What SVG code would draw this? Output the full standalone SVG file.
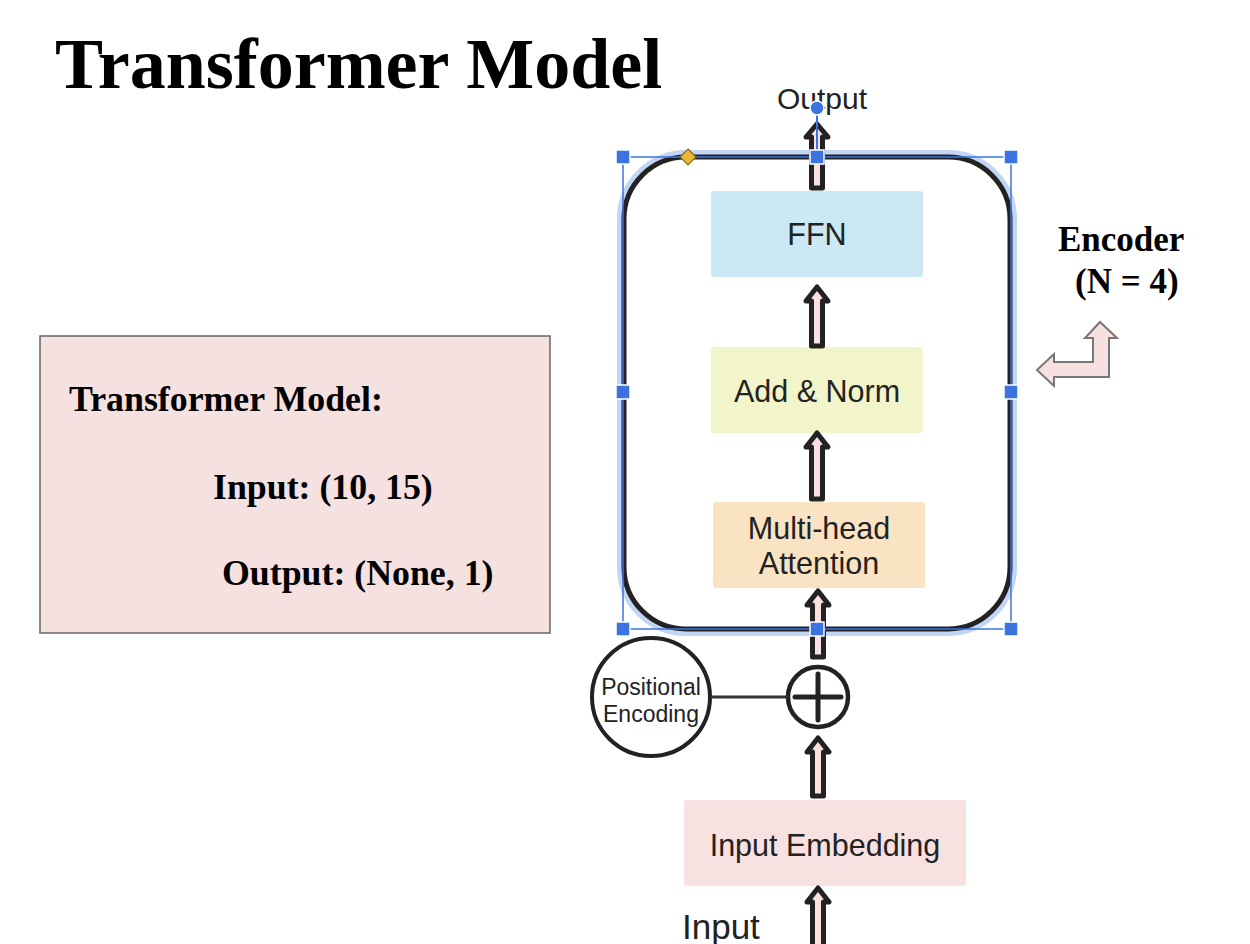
<svg xmlns="http://www.w3.org/2000/svg" width="1250" height="944" viewBox="0 0 1250 944">
<defs>
<style>
.serif{font-family:"Liberation Serif","Times New Roman",serif;font-weight:bold;fill:#000}
.sans{font-family:"Liberation Sans",Arial,sans-serif;fill:#222}
.box{stroke:none}
.barrow{fill:#f9e1e1;stroke:#222;stroke-width:5;stroke-linejoin:round}
.handle{fill:#3b73e0;stroke:#fff;stroke-width:1.5}
</style>
</defs>
<rect width="1250" height="944" fill="#fff"/>

<g id="title">
<text class="serif" x="55" y="88" font-size="72">Transformer Model</text>
</g>

<g id="info-box">
<rect x="40" y="336" width="510" height="297" fill="#f6e1e1" stroke="#666" stroke-width="1.5"/>
<text class="serif" x="69" y="411" font-size="35.8">Transformer Model:</text>
<text class="serif" x="213" y="499" font-size="35.8">Input: (10, 15)</text>
<text class="serif" x="222" y="585" font-size="35.8">Output: (None, 1)</text>
</g>

<g id="encoder-label">
<text class="serif" x="1058" y="251" font-size="35">Encoder</text>
<text class="serif" x="1075" y="293" font-size="35">(N = 4)</text>
</g>

<g id="loop-arrow">
<path d="M1037,370 L1054,354 L1054,362 L1093,362 L1093,338 L1085,338 L1100,322 L1117,338 L1109,338 L1109,377 L1054,377 L1054,386 Z" fill="#f6e0e0" stroke="#777" stroke-width="2" stroke-linejoin="miter"/>
</g>

<g id="encoder">
<rect x="624" y="157" width="386" height="472" rx="62" fill="none" stroke="#c3d5f5" stroke-width="14"/>
<rect x="624" y="157" width="386" height="472" rx="62" fill="#fff" stroke="#222" stroke-width="5"/>
</g>

<g id="ffn">
<rect class="box" x="711" y="191" width="212" height="86" rx="3" fill="#cce8f5"/>
<text class="sans" x="817" y="245" font-size="30.5" text-anchor="middle">FFN</text>
</g>

<g id="add-norm">
<rect class="box" x="711" y="347" width="212" height="86" rx="3" fill="#f2f5c9"/>
<text class="sans" x="817" y="402" font-size="30.5" text-anchor="middle">Add &amp; Norm</text>
</g>

<g id="mha">
<rect class="box" x="713" y="502" width="212" height="86" rx="3" fill="#f9e3c3"/>
<text class="sans" x="819" y="539" font-size="30.5" text-anchor="middle">Multi-head</text>
<text class="sans" x="819" y="574" font-size="30.5" text-anchor="middle">Attention</text>
</g>

<g id="input-embedding">
<rect class="box" x="684" y="800" width="282" height="86" rx="3" fill="#f7e1e1"/>
<text class="sans" x="825" y="856" font-size="30.5" text-anchor="middle">Input Embedding</text>
</g>

<g id="positional-encoding">
<circle cx="651" cy="697" r="59" fill="#fff" stroke="#222" stroke-width="4"/>
<text class="sans" x="651" y="695" font-size="23" text-anchor="middle" fill="#000">Positional</text>
<text class="sans" x="651" y="722" font-size="23" text-anchor="middle" fill="#000">Encoding</text>
</g>

<g id="add">
<circle cx="818" cy="697" r="30" fill="#fff" stroke="#222" stroke-width="4.5"/>
<path d="M795,697 H841 M818,674 V720" stroke="#222" stroke-width="5" stroke-linecap="round"/>
</g>

<g id="labels">
<text class="sans" x="822" y="109" font-size="30" text-anchor="middle" fill="#000">Output</text>
<text class="sans" x="682" y="939" font-size="35" fill="#000">Input</text>
</g>

<g id="connectors">
<line x1="711" y1="697" x2="788" y2="697" stroke="#333" stroke-width="3"/>
<path class="barrow" d="M817,124 L828,137 L822.5,137 L822.5,188 L811.5,188 L811.5,137 L806,137 Z"/>
<path class="barrow" d="M817,287 L828,301 L822.5,301 L822.5,346 L811.5,346 L811.5,301 L806,301 Z"/>
<path class="barrow" d="M817,433 L828,447 L822.5,447 L822.5,499 L811.5,499 L811.5,447 L806,447 Z"/>
<path class="barrow" d="M818,591 L829,605 L823.5,605 L823.5,657 L812.5,657 L812.5,605 L807,605 Z"/>
<path class="barrow" d="M818,738 L829,752 L823.5,752 L823.5,796 L812.5,796 L812.5,752 L807,752 Z"/>
<path class="barrow" d="M818,888 L829,902 L823.5,902 L823.5,950 L812.5,950 L812.5,902 L807,902 Z"/>
</g>

<g id="selection">
<rect x="623" y="157" width="388" height="472" fill="none" stroke="#3b73e0" stroke-width="1.5"/>
<line x1="817" y1="108" x2="817" y2="157" stroke="#3b73e0" stroke-width="2"/>
<circle cx="817" cy="108" r="7" fill="#3b73e0" stroke="#fff" stroke-width="1.5"/>
<rect class="handle" x="616" y="150" width="14" height="14"/>
<rect class="handle" x="810" y="150" width="14" height="14"/>
<rect class="handle" x="1004" y="150" width="14" height="14"/>
<rect class="handle" x="616" y="385" width="14" height="14"/>
<rect class="handle" x="1004" y="385" width="14" height="14"/>
<rect class="handle" x="616" y="622" width="14" height="14"/>
<rect class="handle" x="810" y="622" width="14" height="14"/>
<rect class="handle" x="1004" y="622" width="14" height="14"/>
<path d="M688,149 L696,157 L688,165 L680,157 Z" fill="#e8b838" stroke="#8a6a1a" stroke-width="1.2"/>
</g>
</svg>
